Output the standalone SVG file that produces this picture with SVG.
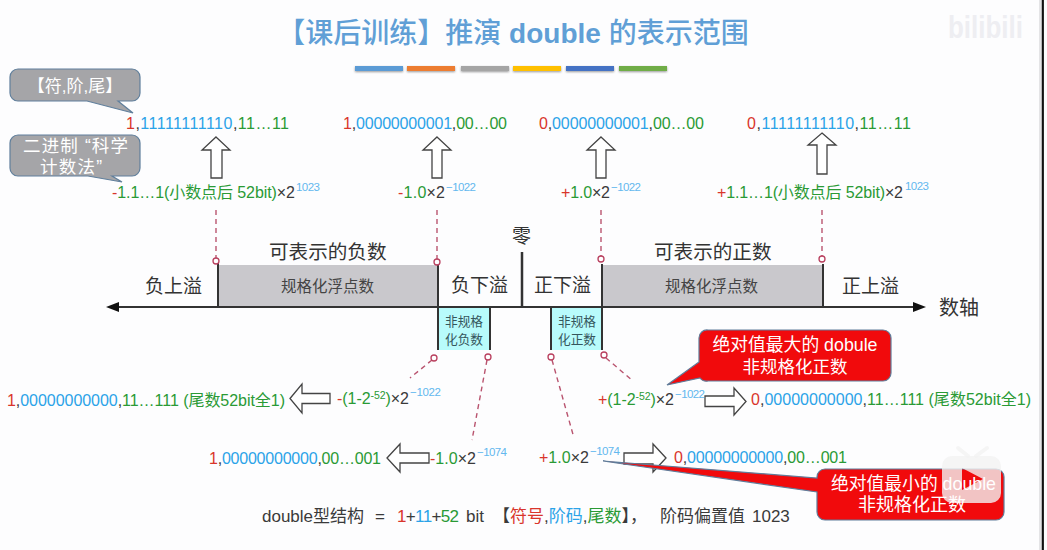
<svg xmlns="http://www.w3.org/2000/svg" width="1047" height="550" viewBox="0 0 1047 550">
<defs>
<style>
text{font-family:"Liberation Sans","Noto Sans CJK SC",sans-serif;fill:#3a3a3a}
.r{fill:#d9352c}.b{fill:#2ba3e8}.g{fill:#2a9a35}.k{fill:#3a3a3a}
.s{font-size:16px}.sup{font-size:11.5px;fill:#63b8ee}
.lab{font-size:19px;fill:#333}
.nm{font-size:15.5px;fill:#444}
.sub{font-size:12.7px;fill:#35565c;text-anchor:middle}
.w{fill:#fff;text-anchor:middle}
.hollow{fill:#fff;stroke:#444;stroke-width:1.3}
.dash{stroke:#b9546f;stroke-width:1.4;stroke-dasharray:5 4;fill:none}
.dot{fill:#fff;stroke:#b9405f;stroke-width:1.3}
.tick{stroke:#333;stroke-width:2;fill:none}
.bar{height:5px;filter:drop-shadow(0 1px 1px #999)}
.gcall{fill:#a5a5a8;stroke:#607f9c;stroke-width:1.2}
.rcall{fill:#f10a0c;stroke:#5f7c9a;stroke-width:1.2}
</style>
</defs>
<rect width="1047" height="550" fill="#fdfdfe"/>
<rect x="1041.500" y="0" width="2.4" height="550" fill="#111"/>
<rect x="1039" y="0" width="2.5" height="550" fill="#e4e4e6"/>

<g id="title">
<text x="513" y="43" text-anchor="middle" font-size="28" font-weight="500" style="fill:#609fd6">【课后训练】推演 <tspan font-weight="700">double</tspan> 的表示范围</text>
<rect class="bar" x="355" y="66" width="48" fill="#5b9bd5"/>
<rect class="bar" x="407" y="66" width="48" fill="#ed7d31"/>
<rect class="bar" x="461" y="66" width="48" fill="#a5a5a5"/>
<rect class="bar" x="513" y="66" width="48" fill="#ffc000"/>
<rect class="bar" x="566" y="66" width="48" fill="#4472c4"/>
<rect class="bar" x="619" y="66" width="48" fill="#70ad47"/>
</g>

<g id="watermark">
<text x="948" y="38" font-size="32" font-weight="700" style="fill:#eeeef2" textLength="75" lengthAdjust="spacingAndGlyphs">bilibili</text>
</g>

<g id="callout-fmt">
<path class="gcall" d="M18 69H132a8 8 0 0 1 8 8V93a8 8 0 0 1-8 8H118L133 113L87 101H18a8 8 0 0 1-8-8V77a8 8 0 0 1 8-8Z"/>
<text class="w" x="75" y="92" font-size="17">【符,阶,尾】</text>
</g>
<g id="callout-sci">
<path class="gcall" d="M18 135H132a8 8 0 0 1 8 8V168a8 8 0 0 1-8 8H112L122 182L88 176H18a8 8 0 0 1-8-8V143a8 8 0 0 1 8-8Z"/>
<text class="w" x="75.5" y="152" font-size="17.5" textLength="105">二进制 “科学</text>
<text class="w" x="71" y="173" font-size="17.5" textLength="62">计数法”</text>
</g>

<g id="connectors">
<line class="dash" x1="216" y1="210" x2="216" y2="258"/>
<line class="dash" x1="437" y1="210" x2="437" y2="259"/>
<line class="dash" x1="601" y1="210" x2="601" y2="256"/>
<line class="dash" x1="822" y1="210" x2="822" y2="256"/>
<line class="dash" x1="432" y1="360" x2="410" y2="378"/>
<line class="dash" x1="487" y1="360" x2="472" y2="440"/>
<line class="dash" x1="552" y1="360" x2="574" y2="438"/>
<line class="dash" x1="606" y1="358" x2="633" y2="381"/>
<path class="hollow" d="M216 137L230 150H222V178H211V150H202Z"/>
<path class="hollow" d="M437 137L451 150H442V178H432V150H423Z"/>
<path class="hollow" d="M601 137L615 150H606V178H596V150H587Z"/>
<path class="hollow" d="M822 133L836 145H827V174H817V145H808Z"/>
<path class="hollow" d="M290 398.500L302 384V393.500H330V403.500H302V413Z"/>
<path class="hollow" d="M387 458L400 444V453H429V463H400V472Z"/>
<path class="hollow" d="M746 401.500L734 388V396H705V406.500H734V415Z"/>
<path class="hollow" d="M666 458L653 444V453H624V464H653V472Z"/>
</g>

<g id="axis">
<rect x="218" y="265" width="220" height="42" fill="#c9c8cc"/>
<rect x="602" y="265" width="221" height="42" fill="#c9c8cc"/>
<rect x="438" y="307" width="52" height="43" fill="#b8fbfb"/>
<rect x="551" y="307" width="51" height="43" fill="#b8fbfb"/>
<line class="tick" x1="119" y1="307" x2="913" y2="307"/>
<path d="M106 307L119 302V312Z" fill="#111"/>
<path d="M926 307L913 302V312Z" fill="#111"/>
<line class="tick" x1="218" y1="263" x2="218" y2="307"/>
<line class="tick" x1="438" y1="264" x2="438" y2="350"/>
<line class="tick" x1="490" y1="307" x2="490" y2="350"/>
<line class="tick" x1="522" y1="252" x2="522" y2="307" style="stroke-width:2.5"/>
<line class="tick" x1="551" y1="307" x2="551" y2="350"/>
<line class="tick" x1="602" y1="264" x2="602" y2="350"/>
<line class="tick" x1="823" y1="264" x2="823" y2="307"/>
<circle class="dot" cx="216" cy="261" r="3"/>
<circle class="dot" cx="437" cy="262" r="3"/>
<circle class="dot" cx="601" cy="259" r="3"/>
<circle class="dot" cx="822" cy="259" r="3"/>
<circle class="dot" cx="434" cy="358" r="3"/>
<circle class="dot" cx="488" cy="357" r="3"/>
<circle class="dot" cx="551" cy="357" r="3"/>
<circle class="dot" cx="604" cy="355" r="3"/>
</g>

<g id="axis-labels">
<text x="512" y="243" font-size="19" style="fill:#333">零</text>
<text class="lab" x="269" y="259" style="font-size:19.6px">可表示的负数</text>
<text class="lab" x="654" y="259" style="font-size:19.6px">可表示的正数</text>
<text class="lab" x="145" y="293">负上溢</text>
<text class="lab" x="451" y="292">负下溢</text>
<text class="lab" x="534" y="292">正下溢</text>
<text class="lab" x="842" y="293">正上溢</text>
<text class="lab" x="939" y="315" style="font-size:20px">数轴</text>
<text class="nm" x="281" y="292">规格化浮点数</text>
<text class="nm" x="665" y="292">规格化浮点数</text>
<text class="sub" x="464" y="326">非规格</text>
<text class="sub" x="464" y="344">化负数</text>
<text class="sub" x="577" y="326">非规格</text>
<text class="sub" x="577" y="344">化正数</text>
</g>

<g id="top-encodings">
<text class="s" x="126" y="129" textLength="163"><tspan class="r">1</tspan>,<tspan class="b">11111111110</tspan>,<tspan class="g">11…11</tspan></text>
<text class="s" x="343" y="129" textLength="164"><tspan class="r">1</tspan>,<tspan class="b">00000000001</tspan>,<tspan class="g">00…00</tspan></text>
<text class="s" x="539" y="129" textLength="165"><tspan class="r">0</tspan>,<tspan class="b">00000000001</tspan>,<tspan class="g">00…00</tspan></text>
<text class="s" x="747" y="129" textLength="164"><tspan class="r">0</tspan>,<tspan class="b">11111111110</tspan>,<tspan class="g">11…11</tspan></text>
</g>

<g id="top-values">
<text class="s" x="112" y="198" textLength="183"><tspan class="r">-</tspan><tspan class="g">1.1…1(小数点后 52bit)</tspan>×2</text>
<text class="sup" x="296" y="191" textLength="24">1023</text>
<text class="s" x="398" y="198" textLength="47"><tspan class="r">-</tspan><tspan class="g">1.0</tspan>×2</text>
<text class="sup" x="446" y="191" textLength="30">−1022</text>
<text class="s" x="561" y="198" textLength="49"><tspan class="r">+</tspan><tspan class="g">1.0</tspan>×2</text>
<text class="sup" x="611" y="191" textLength="30">−1022</text>
<text class="s" x="717" y="198" textLength="186"><tspan class="r">+</tspan><tspan class="g">1.1…1(小数点后 52bit)</tspan>×2</text>
<text class="sup" x="905" y="190" textLength="24">1023</text>
</g>

<g id="callout-max">
<path class="rcall" d="M708 330H883a8 8 0 0 1 8 8V373a8 8 0 0 1-8 8H708a8 8 0 0 1-8-3L667 385L699 362V338a8 8 0 0 1 9-8Z"/>
<text class="w" x="795" y="351" font-size="17.8">绝对值最大的 dobule</text>
<text class="w" x="795" y="373" font-size="17.5">非规格化正数</text>
</g>

<g id="bottom-values">
<text class="s" x="7" y="406" textLength="278"><tspan class="r">1</tspan>,<tspan class="b">00000000000</tspan>,<tspan class="g">11…111 (尾数52bit全1)</tspan></text>
<text class="s" x="337" y="404" textLength="72"><tspan class="r">-</tspan><tspan class="g">(1-2</tspan><tspan class="g" dy="-5" font-size="10.5">-52</tspan><tspan class="g" dy="5">)</tspan>×2</text>
<text class="sup" x="410" y="396" textLength="31">−1022</text>
<text class="s" x="209" y="464" textLength="172"><tspan class="r">1</tspan>,<tspan class="b">00000000000</tspan>,<tspan class="g">00…001</tspan></text>
<text class="s" x="430" y="464" textLength="46"><tspan class="r">-</tspan><tspan class="g">1.0</tspan>×2</text>
<text class="sup" x="477" y="456" textLength="30">−1074</text>
<text class="s" x="598" y="405" textLength="76"><tspan class="r">+</tspan><tspan class="g">(1-2</tspan><tspan class="g" dy="-5" font-size="10.5">-52</tspan><tspan class="g" dy="5">)</tspan>×2</text>
<text class="sup" x="675" y="398" textLength="30">−1022</text>
<text class="s" x="751" y="405" textLength="280"><tspan class="r">0</tspan>,<tspan class="b">00000000000</tspan>,<tspan class="g">11…111 (尾数52bit全1)</tspan></text>
<text class="s" x="539" y="463" textLength="50"><tspan class="r">+</tspan><tspan class="g">1.0</tspan>×2</text>
<text class="sup" x="590" y="455" textLength="30">−1074</text>
<text class="s" x="674" y="463" textLength="173"><tspan class="r">0</tspan>,<tspan class="b">00000000000</tspan>,<tspan class="g">00…001</tspan></text>
</g>

<g id="structure">
<text x="262" y="522" font-size="17">double型结构</text>
<text x="375" y="522" font-size="17">=</text>
<text x="397" y="522" font-size="17" textLength="62"><tspan class="r">1</tspan>+<tspan class="b">11</tspan>+<tspan class="g">52</tspan></text>
<text x="466" y="522" font-size="17">bit</text>
<text x="493" y="522" font-size="17">【<tspan class="r">符号</tspan>,<tspan class="b">阶码</tspan>,<tspan class="g">尾数</tspan>】，</text>
<text x="660" y="522" font-size="17">阶码偏置值</text>
<text x="752" y="522" font-size="17">1023</text>
</g>

<g id="callout-min">
<path class="rcall" d="M825 469H996a8 8 0 0 1 8 8V512a8 8 0 0 1-8 8H825a8 8 0 0 1-8-8V492L603 461L817 478V477a8 8 0 0 1 8-8Z"/>
<g id="play-badge">
<path fill="#f2f2f3" fill-opacity="0.8" fill-rule="evenodd" d="M952 456H991a10 10 0 0 1 10 10V493a10 10 0 0 1-10 10H952a10 10 0 0 1-10-10V466a10 10 0 0 1 10-10ZM962 468V490L983 479Z"/>
<path d="M958 448L968 456M987 448L976 456" stroke="#f2f2f3" stroke-opacity="0.8" stroke-width="4" stroke-linecap="round" fill="none"/>
</g>
<text class="w" x="913.500" y="490" font-size="17.8">绝对值最小的 double</text>
<text class="w" x="912" y="511" font-size="18">非规格化正数</text>
</g>
</svg>
